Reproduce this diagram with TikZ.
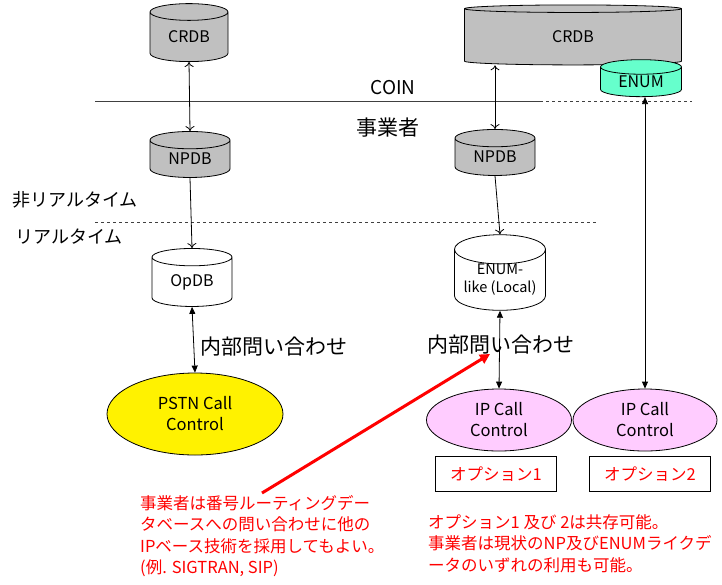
\documentclass[tikz,border=0pt]{standalone}
\usepackage{fontspec}
\setmainfont{Noto Sans CJK JP}
\usepackage{tikz}
\usetikzlibrary{shapes.geometric,arrows.meta}

\definecolor{dbgray}{RGB}{192,192,192}
\definecolor{enumgreen}{RGB}{102,255,204}
\definecolor{callpink}{RGB}{255,204,255}

\tikzset{
  db/.style={cylinder, shape border rotate=90, draw, thick, fill=white, aspect=0.4,
    font=\fontsize{16}{18}\selectfont, align=center, inner sep=0pt},
  call/.style={ellipse, draw, thick, font=\fontsize{16.5}{21}\selectfont, align=center, inner sep=0pt},
  optbox/.style={draw, thick, text=red, font=\fontsize{16.5}{18}\selectfont,
    minimum width=121pt, minimum height=35pt},
  note/.style={text=red, font=\fontsize{16.5}{21.5}\selectfont, align=left, anchor=north west, inner sep=0pt},
  lbl/.style={font=\fontsize{18}{20}\selectfont, inner sep=0pt},
  open/.style={thick, {To[length=5pt,width=9pt]}-{To[length=5pt,width=9pt]}},
  filled/.style={thick, {Triangle[length=7pt,width=6pt]}-{Triangle[length=7pt,width=6pt]}}
}

\begin{document}
\begin{tikzpicture}[x=1pt, y=-1pt]
  \useasboundingbox (0,0) rectangle (722,584);

  % Databases
  \node[db, fill=dbgray, minimum width=78pt, minimum height=58pt] (crdbL) at (189,37) {CRDB};
  \node[db, fill=dbgray, minimum width=217pt, minimum height=60pt, aspect=0.18] (crdbR) at (573,37) {CRDB};
  \node[db, fill=enumgreen, minimum width=81pt, minimum height=37pt, aspect=0.32] (enum) at (641,82) {ENUM};
  \node[db, fill=dbgray, minimum width=80pt, minimum height=46pt] (npdbL) at (190,159) {NPDB};
  \node[db, fill=dbgray, minimum width=80pt, minimum height=46pt] (npdbR) at (495,157) {NPDB};
  \node[db, minimum width=80pt, minimum height=58pt] (opdb) at (192,282) {OpDB};
  \node[db, minimum width=91pt, minimum height=65pt, font=\fontsize{14.5}{18}\selectfont] (enumlike) at (500,280) {ENUM-\\like (Local)};

  % Call control
  \node[call, fill=yellow, minimum width=176pt, minimum height=82pt] (pstn) at (195,414) {PSTN Call\\Control};
  \node[call, fill=callpink, minimum width=145pt, minimum height=62pt] (ipcc1) at (499,420) {IP Call\\Control};
  \node[call, fill=callpink, minimum width=144pt, minimum height=62pt] (ipcc2) at (645,420) {IP Call\\Control};

  % Options
  \node[optbox] (opt1) at (496,474) {オプション1};
  \node[optbox] (opt2) at (650,474) {オプション2};

  % Boundaries
  \draw[thick, black!75] (95,101) -- (540,101);
  \draw[thick, black!75, dashed] (540,101) -- (692,101);
  \draw[black!75, dashed] (95,222) -- (598,222);

  % Labels
  \node[lbl, font=\fontsize{19}{21}\selectfont] (coin) at (393,88) {COIN};
  \node[lbl, font=\fontsize{21}{23}\selectfont] (jigyo) at (388,128) {事業者};
  \node[lbl, anchor=west] (nonrt) at (12,200) {非リアルタイム};
  \node[lbl, anchor=west] (rt) at (15,237) {リアルタイム};
  \node[lbl, anchor=west, font=\fontsize{21}{23}\selectfont] (naibuL) at (200,347) {内部問い合わせ};
  \node[lbl, anchor=west, font=\fontsize{21}{23}\selectfont] (naibuR) at (427,345) {内部問い合わせ};

  % Notes
  \node[note] (noteL) at (140,495) {事業者は番号ルーティングデー\\タベースへの問い合わせに他の\\IPベース技術を採用してもよい。\\(例. SIGTRAN, SIP)};
  \node[note] (noteR) at (428,514) {オプション1 及び 2は共存可能。\\事業者は現状のNP及びENUMライクデ\\ータのいずれの利用も可能。};

  % Connectors
  \draw[open] (crdbL.south) -- (npdbL.north);
  \draw[open] (npdbR.north |- crdbR.south) -- (npdbR.north);
  \draw[thick, -{To[length=5pt,width=9pt]}] (npdbL.south) -- (opdb.north);
  \draw[thick, -{To[length=5pt,width=9pt]}] (npdbR.south) -- (enumlike.north);
  \draw[filled] (opdb.south) -- (pstn.north);
  \draw[filled] (enumlike.south) -- (ipcc1.north);
  \draw[filled] (ipcc2.north |- enum.south) -- (ipcc2.north);
  \draw[red, line width=3pt, -{Triangle[length=10pt,width=10pt]}] (noteL.north west) ++(122,-2) coordinate (tail) (tail) -- (490,354);
\end{tikzpicture}
\end{document}
